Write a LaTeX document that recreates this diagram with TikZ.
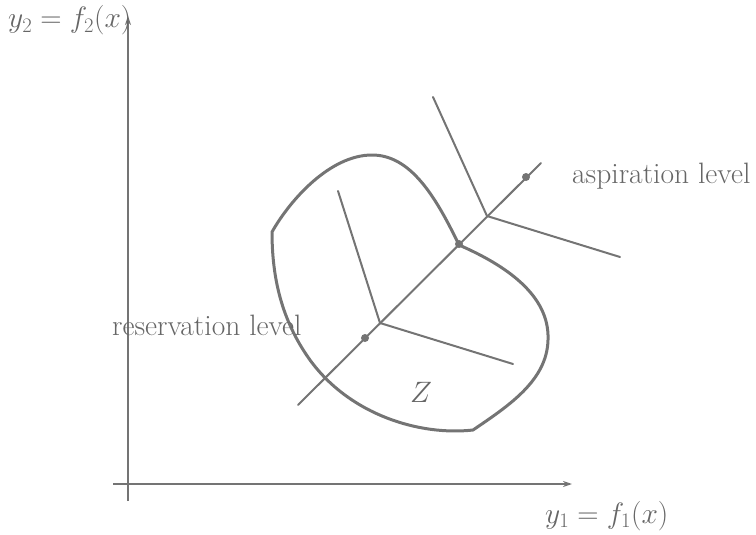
\documentclass[tikz,border=0pt]{standalone}
\usepackage{fix-cm}
\usepackage{fontspec}
\usetikzlibrary{arrows.meta}
\definecolor{ink}{HTML}{747474}
\definecolor{txt}{HTML}{666666}
\begin{document}
\begin{tikzpicture}[x=1pt,y=-1pt,
  axis/.style={draw=ink,line width=1.4pt,-{Stealth[length=9pt,width=6pt]}},
  ray/.style={draw=ink,line width=2pt,line cap=round},
  region/.style={draw=ink,line width=3pt,line join=round},
  dotmark/.style={circle,fill=ink,inner sep=0pt,minimum size=8pt},
  lbl/.style={text=txt,inner sep=0pt,font=\fontsize{29.5}{34}\selectfont}]
\useasboundingbox (0,0) rectangle (756,535);
% axes
\coordinate (O) at (128,484);
\coordinate (xend) at (572,484);
\coordinate (xstart) at (113,484);
\coordinate (yend) at (128,16);
\coordinate (ystart) at (128,501);
\draw[axis] (xstart) -- (xend);
\draw[axis] (ystart) -- (yend);
% region Z
\draw[region] (272,232) .. controls (290,200) and (330,155) .. (372,155)
  .. controls (410,155) and (435,195) .. (459,245)
  .. controls (505,265) and (550,295) .. (548,340)
  .. controls (547,380) and (510,405) .. (473,430)
  .. controls (420,436) and (350,415) .. (310,360)
  .. controls (285,325) and (272,285) .. (272,232) -- cycle;
% main line
\coordinate (L0) at (298,405);
\coordinate (L1) at (541,163);
\draw[ray] (L0) -- (L1);
% reservation cone
\coordinate (rv) at (380,323);
\coordinate (ru) at (338,191);
\coordinate (rr) at (513,364);
\draw[ray] (ru) -- (rv) -- (rr);
% aspiration cone
\coordinate (av) at (487,216);
\coordinate (au) at (433,97);
\coordinate (ar) at (620,257);
\draw[ray] (au) -- (av) -- (ar);
% dots
\node[dotmark] (rp) at (365,338) {};
\node[dotmark] (zp) at (459,244) {};
\node[dotmark] (ap) at (526,177) {};
% labels
\node[lbl,anchor=base west] (ylab) at (8,28) {$y_2=f_2(x)$};
\node[lbl,anchor=base west] (xlab) at (545,523) {$y_1=f_1(x)$};
\node[lbl,anchor=base west] (asp) at (572,183) {aspiration level};
\node[lbl,anchor=base west] (res) at (112,335) {reservation level};
\node[lbl] (Z) at (421,392) {$Z$};
\end{tikzpicture}
\end{document}
